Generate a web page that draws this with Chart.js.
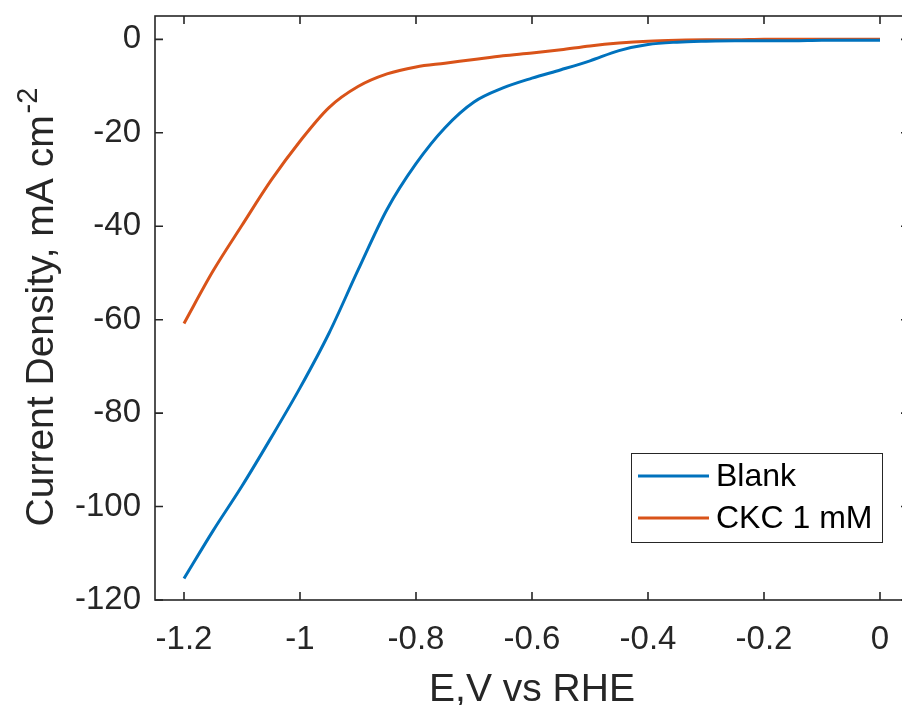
<!DOCTYPE html>
<html>
<head>
<meta charset="utf-8">
<script src="https://cdn.jsdelivr.net/npm/chart.js@4/dist/chart.umd.min.js"></script>
<style>
  html, body { margin: 0; padding: 0; background: #fff; overflow: hidden; }
  canvas { display: block; }
</style>
</head>
<body>
<canvas id="lsvChart" width="910" height="705"></canvas>
<script>
const potential = [-1.2, -1.15, -1.1, -1.05, -1.0, -0.95, -0.9, -0.85, -0.8, -0.75, -0.7, -0.65,
  -0.6, -0.55, -0.5, -0.45, -0.4, -0.35, -0.3, -0.25, -0.2, -0.15, -0.1, -0.05, 0];
const blank = [-115.4, -105.2, -95.6, -85.3, -74.6, -62.9, -49.4, -36.4, -26.6, -18.9, -13.4, -10.4,
  -8.3, -6.5, -4.6, -2.4, -1.1, -0.6, -0.4, -0.3, -0.3, -0.3, -0.2, -0.2, -0.2];
const ckc = [-60.8, -49.6, -39.8, -30.2, -21.8, -14.6, -10.1, -7.4, -5.9, -5.1, -4.3, -3.5,
  -2.9, -2.2, -1.4, -0.8, -0.4, -0.2, -0.1, -0.1, 0, 0, 0, 0, 0];
const xTicks = [-1.2, -1.0, -0.8, -0.6, -0.4, -0.2, 0];
const yTicks = [-120, -100, -80, -60, -40, -20, 0];

const axisColor = "#262626";
const tickFont = { family: "Liberation Sans, Arial, sans-serif", size: 33 };
const fmt = (v) => String(Number(v.toFixed(2)));

// box, inward ticks, axis titles and the boxed legend, MATLAB style
const matlabFrame = {
  id: "matlabFrame",
  afterDraw(chart) {
    const ctx = chart.ctx;
    const a = chart.chartArea;
    const xs = chart.scales.x, ys = chart.scales.y;
    ctx.save();
    ctx.strokeStyle = axisColor;
    ctx.lineWidth = 1.6;
    ctx.strokeRect(a.left, a.top, a.right - a.left, a.bottom - a.top);
    ctx.beginPath();
    xTicks.forEach(v => {
      const px = xs.getPixelForValue(v);
      ctx.moveTo(px, a.bottom); ctx.lineTo(px, a.bottom - 8);
      ctx.moveTo(px, a.top); ctx.lineTo(px, a.top + 8);
    });
    yTicks.forEach(v => {
      const py = ys.getPixelForValue(v);
      ctx.moveTo(a.left, py); ctx.lineTo(a.left + 8, py);
      ctx.moveTo(a.right, py); ctx.lineTo(a.right - 8, py);
    });
    ctx.stroke();

    // x title
    ctx.fillStyle = axisColor;
    ctx.font = "39px Liberation Sans, Arial, sans-serif";
    ctx.textAlign = "center";
    ctx.textBaseline = "alphabetic";
    ctx.fillText("E,V vs RHE", (a.left + a.right) / 2, 701);

    // y title with superscript
    const main = "Current Density, mA cm", sup = "-2";
    ctx.font = "39px Liberation Sans, Arial, sans-serif";
    const w1 = ctx.measureText(main).width;
    ctx.font = "29px Liberation Sans, Arial, sans-serif";
    const w2 = ctx.measureText(sup).width;
    ctx.translate(53, (a.top + a.bottom) / 2);
    ctx.rotate(-Math.PI / 2);
    ctx.textAlign = "left";
    const start = -(w1 + w2) / 2;
    ctx.font = "39px Liberation Sans, Arial, sans-serif";
    ctx.fillText(main, start, 0);
    ctx.font = "29px Liberation Sans, Arial, sans-serif";
    ctx.fillText(sup, start + w1 + 2, -16);
    ctx.restore();

    // legend
    ctx.save();
    const lx = 631, ly = 453, lw = 251, lh = 89;
    ctx.fillStyle = "#fff";
    ctx.fillRect(lx, ly, lw, lh);
    ctx.strokeStyle = "#262626";
    ctx.lineWidth = 1;
    ctx.strokeRect(lx + 0.5, ly + 0.5, lw, lh);
    ctx.font = "32px Liberation Sans, Arial, sans-serif";
    ctx.textAlign = "left";
    ctx.textBaseline = "middle";
    chart.data.datasets.forEach((ds, i) => {
      const yy = ly + 23 + i * 42;
      ctx.strokeStyle = ds.borderColor;
      ctx.lineWidth = 3;
      ctx.beginPath();
      ctx.moveTo(lx + 7, yy); ctx.lineTo(lx + 78, yy);
      ctx.stroke();
      ctx.fillStyle = "#000";
      ctx.fillText(ds.label, lx + 85, yy + 1);
    });
    ctx.restore();
  }
};

new Chart(document.getElementById("lsvChart"), {
  type: "line",
  data: {
    datasets: [
      { label: "Blank", data: potential.map((x, i) => ({ x, y: blank[i] })), borderColor: "#0072BD" },
      { label: "CKC 1 mM", data: potential.map((x, i) => ({ x, y: ckc[i] })), borderColor: "#D95319" }
    ]
  },
  options: {
    responsive: false,
    animation: false,
    layout: { padding: { top: 16, right: 1, left: 0, bottom: 0 } },
    elements: {
      line: { borderWidth: 3, cubicInterpolationMode: "monotone", fill: false },
      point: { radius: 0 }
    },
    plugins: { legend: { display: false }, tooltip: { enabled: false } },
    scales: {
      x: {
        type: "linear", min: -1.25, max: 0.05,
        grid: { display: false, drawTicks: false },
        border: { display: false },
        afterBuildTicks: (s) => { s.ticks = xTicks.map(v => ({ value: v })); },
        afterFit: (s) => { s.height = 105; s.paddingLeft = 0; s.paddingRight = 0; },
        ticks: { color: axisColor, font: tickFont, padding: 20, maxRotation: 0, autoSkip: false, callback: fmt }
      },
      y: {
        type: "linear", min: -120, max: 5,
        grid: { display: false, drawTicks: false },
        border: { display: false },
        afterBuildTicks: (s) => { s.ticks = yTicks.map(v => ({ value: v })); },
        afterFit: (s) => { s.width = 155; s.paddingTop = 0; s.paddingBottom = 0; },
        ticks: { color: axisColor, font: tickFont, padding: 14, autoSkip: false, callback: fmt }
      }
    }
  },
  plugins: [matlabFrame]
});
</script>
</body>
</html>
